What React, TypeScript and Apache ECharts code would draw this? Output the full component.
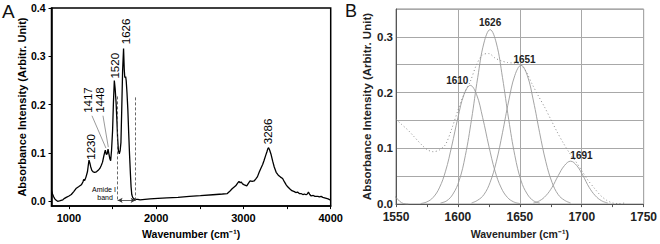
import React, { useEffect, useRef } from 'react';
import * as echarts from 'echarts';

// ---------- Panel A: full FTIR spectrum ----------
const specAWn = [800, 812, 823, 838, 854, 870, 892, 910, 930, 950, 969, 1000, 1027, 1055, 1085, 1110, 1142, 1160, 1169, 1180, 1195, 1212, 1222, 1230, 1240, 1250, 1262, 1277, 1295, 1315, 1335, 1354, 1370, 1385, 1400, 1411, 1417, 1428, 1438, 1448, 1458, 1469, 1478, 1488, 1500, 1510, 1520, 1530, 1540, 1550, 1558, 1567, 1577, 1587, 1596, 1605, 1615, 1626, 1634, 1640, 1650, 1656, 1665, 1675, 1685, 1695, 1705, 1712, 1720, 1730, 1745, 1757, 1790, 1815, 1870, 1930, 2020, 2123, 2250, 2380, 2507, 2650, 2760, 2815, 2840, 2870, 2911, 2935, 2949, 2962, 2973, 2990, 3010, 3038, 3060, 3076, 3100, 3122, 3140, 3161, 3180, 3199, 3220, 3237, 3255, 3268, 3280, 3288, 3300, 3315, 3335, 3353, 3375, 3399, 3425, 3449, 3470, 3490, 3507, 3530, 3555, 3583, 3600, 3620, 3640, 3660, 3680, 3700, 3718, 3732, 3745, 3760, 3776, 3800, 3820, 3853, 3870, 3890, 3910, 3930, 3950, 3970, 4000];
const specAVal = [0.022, 0.015, 0.010, 0.005, 0.002, 0.000, 0.001, 0.002, 0.003, 0.006, 0.008, 0.011, 0.014, 0.020, 0.027, 0.030, 0.034, 0.040, 0.045, 0.043, 0.050, 0.061, 0.075, 0.085, 0.079, 0.071, 0.064, 0.061, 0.060, 0.061, 0.064, 0.068, 0.074, 0.081, 0.094, 0.102, 0.106, 0.097, 0.098, 0.108, 0.098, 0.088, 0.084, 0.105, 0.146, 0.205, 0.250, 0.232, 0.205, 0.165, 0.130, 0.105, 0.098, 0.105, 0.122, 0.190, 0.270, 0.316, 0.272, 0.256, 0.258, 0.250, 0.225, 0.190, 0.140, 0.095, 0.055, 0.030, 0.014, 0.008, 0.005, 0.004, 0.004, 0.003, 0.004, 0.005, 0.006, 0.007, 0.008, 0.010, 0.0115, 0.0135, 0.015, 0.016, 0.020, 0.026, 0.032, 0.038, 0.041, 0.038, 0.040, 0.036, 0.034, 0.032, 0.038, 0.042, 0.041, 0.042, 0.046, 0.051, 0.060, 0.068, 0.076, 0.085, 0.095, 0.102, 0.109, 0.111, 0.106, 0.098, 0.083, 0.071, 0.060, 0.054, 0.050, 0.047, 0.040, 0.034, 0.030, 0.026, 0.022, 0.020, 0.018, 0.019, 0.016, 0.016, 0.014, 0.015, 0.0135, 0.015, 0.019, 0.014, 0.011, 0.012, 0.010, 0.010, 0.009, 0.010, 0.008, 0.007, 0.006, 0.005, 0.002];

const aXLabels = [1000, 2000, 3000, 4000];
const aXTicks = [1000, 1500, 2000, 2500, 3000, 3500, 4000];
const aYLabels = [0, 0.1, 0.2, 0.3, 0.4];

// rotated peak annotations: text start (bottom) point in data coords
const aPeakText = ['1230', '1417', '1448', '1520', '1626', '3286'];
const aPeakX = [1249, 1222, 1356, 1527, 1650, 3283];
const aPeakY = [0.086, 0.183, 0.183, 0.254, 0.325, 0.118];

// leader lines for 1417 / 1448
const leaderFrom = [[1264, 0.177], [1390, 0.177]];
const leaderTo = [[1424, 0.110], [1451, 0.112]];

// amide I band markers
const amideBounds = [1558, 1764];
const amideTops = [0.217, 0.215];

// ---------- Panel B: deconvolution ----------
const g1610X = [1570, 1575, 1580, 1585, 1590, 1595, 1600, 1605, 1610, 1615, 1620, 1625, 1630, 1635, 1640, 1645, 1650];
const g1610Y = [0.001, 0.004, 0.012, 0.029, 0.059, 0.104, 0.155, 0.197, 0.213, 0.197, 0.155, 0.104, 0.059, 0.029, 0.012, 0.004, 0.001];
const g1626X = [1586, 1591, 1596, 1601, 1606, 1611, 1616, 1621, 1626, 1631, 1636, 1641, 1646, 1651, 1656, 1661, 1666];
const g1626Y = [0.002, 0.006, 0.018, 0.042, 0.087, 0.152, 0.227, 0.289, 0.313, 0.289, 0.227, 0.152, 0.087, 0.042, 0.018, 0.006, 0.002];
const g1651X = [1611, 1616, 1621, 1626, 1631, 1636, 1641, 1646, 1651, 1656, 1661, 1666, 1671, 1676, 1681, 1686, 1691];
const g1651Y = [0.002, 0.007, 0.017, 0.039, 0.076, 0.128, 0.185, 0.231, 0.249, 0.231, 0.185, 0.128, 0.076, 0.039, 0.017, 0.007, 0.002];
const g1691X = [1661, 1666, 1671, 1676, 1681, 1686, 1691, 1696, 1701, 1706, 1711, 1716, 1721];
const g1691Y = [0.002, 0.006, 0.015, 0.030, 0.051, 0.069, 0.077, 0.069, 0.051, 0.030, 0.015, 0.006, 0.002];
const gTailX = [1540, 1545, 1550, 1553, 1556, 1560];
const gTailY = [0.030, 0.022, 0.012, 0.005, 0.001, 0.000];

const measX = [1550, 1555, 1560, 1565, 1570, 1575, 1580, 1585, 1590, 1595, 1600, 1605, 1610, 1615, 1620, 1625, 1630, 1635, 1640, 1645, 1650, 1655, 1660, 1665, 1670, 1675, 1680, 1685, 1690, 1695, 1700, 1705, 1710, 1715, 1720, 1725, 1730, 1735];
const measY = [0.152, 0.142, 0.132, 0.120, 0.108, 0.098, 0.094, 0.097, 0.107, 0.135, 0.168, 0.198, 0.220, 0.250, 0.268, 0.270, 0.262, 0.257, 0.254, 0.253, 0.251, 0.238, 0.215, 0.194, 0.174, 0.152, 0.130, 0.110, 0.092, 0.077, 0.060, 0.043, 0.029, 0.016, 0.007, 0.002, 0.001, 0.002];

const bPeakText = ['1610', '1626', '1651', '1691'];
const bPeakX = [1599.5, 1626, 1653.8, 1699.8];
const bPeakY = [0.221, 0.326, 0.26, 0.0876];

const FONT = "'Liberation Sans', Arial, sans-serif";
const zip = (xs: number[], ys: number[]) => xs.map((x, i) => [x, ys[i]]);

export default function App() {
  const ref = useRef<HTMLDivElement>(null);
  useEffect(() => {
    document.body.style.margin = '0';
    const chart = echarts.init(ref.current!, null, { renderer: 'svg' });
    const gaussStyle = { color: '#9a9a9a', width: 0.9 };
    const gauss = (xs: number[], ys: number[]) => ({
      type: 'line', xAxisIndex: 1, yAxisIndex: 1, data: zip(xs, ys), showSymbol: false,
      smooth: 0.4, lineStyle: gaussStyle, clip: true, silent: true,
    });
    chart.setOption({
      animation: false,
      grid: [
        { left: 51.5, right: 329.3, top: 8, bottom: 34, show: true, borderColor: '#000', borderWidth: 1.5, backgroundColor: 'transparent' },
        { left: 396, right: 14, top: 9, bottom: 35, show: true, borderColor: '#8a8a8a', borderWidth: 1, backgroundColor: 'transparent' },
      ],
      xAxis: [
        {
          gridIndex: 0, type: 'value', min: 800, max: 4000,
          axisLine: { show: true, onZero: false, lineStyle: { color: '#000', width: 1.5 } },
          axisTick: { show: true, length: 3, customValues: aXTicks, lineStyle: { color: '#000' } },
          axisLabel: { customValues: aXLabels, formatter: (v: number) => String(v), fontSize: 11, fontWeight: 'bold', color: '#000', fontFamily: FONT, margin: 6 },
          splitLine: { show: false },
          name: 'Wavenumber (cm⁻¹)', nameLocation: 'middle', nameGap: 16,
          nameTextStyle: { fontSize: 10.5, fontWeight: 'bold', color: '#000', fontFamily: FONT },
        },
        {
          gridIndex: 1, type: 'value', min: 1550, max: 1750, interval: 50,
          axisLine: { show: true, onZero: false, lineStyle: { color: '#555', width: 1 } },
          axisTick: { show: true, length: 3, lineStyle: { color: '#555' } },
          minorTick: { show: true, splitNumber: 2, length: 3, lineStyle: { color: '#555' } },
          axisLabel: { formatter: (v: number) => String(v), fontSize: 12, fontWeight: 'bold', color: '#222', fontFamily: FONT, margin: 7 },
          splitLine: { show: true, lineStyle: { color: '#a8a8a8', width: 1 } },
          name: 'Wavenumber (cm⁻¹)', nameLocation: 'middle', nameGap: 17,
          nameTextStyle: { fontSize: 10.5, fontWeight: 'bold', color: '#222', fontFamily: FONT },
        },
      ],
      yAxis: [
        {
          gridIndex: 0, type: 'value', min: -0.01, max: 0.4,
          axisLine: { show: true, onZero: false, lineStyle: { color: '#000', width: 1.5 } },
          axisTick: { show: true, length: 3, customValues: aYLabels, lineStyle: { color: '#000' } },
          axisLabel: { customValues: aYLabels, formatter: (v: number) => v.toFixed(1), fontSize: 10.5, fontWeight: 'bold', color: '#000', fontFamily: FONT, margin: 6 },
          splitLine: { show: false },
          name: 'Absorbance Intensity (Arbitr. Unit)', nameLocation: 'middle', nameGap: 22,
          nameTextStyle: { fontSize: 11, fontWeight: 'bold', color: '#000', fontFamily: FONT },
        },
        {
          gridIndex: 1, type: 'value', min: 0, max: 0.35, interval: 0.05,
          axisLine: { show: true, onZero: false, lineStyle: { color: '#555', width: 1 } },
          axisTick: { show: false },
          axisLabel: {
            formatter: (v: number) => (Math.abs(v * 10 - Math.round(v * 10)) < 1e-6 ? v.toFixed(1) : ''),
            fontSize: 11.5, fontWeight: 'bold', color: '#222', fontFamily: FONT, margin: 3,
          },
          splitLine: { show: true, lineStyle: { color: '#a8a8a8', width: 1 } },
          name: 'Absorbance Intensity (Arbitr. Unit)', nameLocation: 'middle', nameGap: 22,
          nameTextStyle: { fontSize: 11.5, fontWeight: 'bold', color: '#222', fontFamily: FONT },
        },
      ],
      series: [
        {
          type: 'line', xAxisIndex: 0, yAxisIndex: 0, data: zip(specAWn, specAVal), showSymbol: false,
          lineStyle: { color: '#000', width: 1.3 }, silent: true,
          markLine: {
            silent: true, symbol: ['none', 'none'], label: { show: false },
            lineStyle: { type: [3, 2], color: '#444', width: 0.8 },
            data: amideBounds.map((b, i) => [{ coord: [b, amideTops[i]] }, { coord: [b, 0] }]),
          },
        },
        {
          type: 'line', xAxisIndex: 0, yAxisIndex: 0, data: [], showSymbol: false, silent: true,
          markLine: {
            silent: true, symbol: ['arrow', 'arrow'], symbolSize: [4, 5], label: { show: false },
            lineStyle: { type: 'solid', color: '#333', width: 0.8 },
            data: [[{ coord: [amideBounds[0], 0.002] }, { coord: [amideBounds[1], 0.002] }]],
          },
        },
        gauss(gTailX, gTailY),
        gauss(g1610X, g1610Y),
        gauss(g1626X, g1626Y),
        gauss(g1651X, g1651Y),
        gauss(g1691X, g1691Y),
        {
          type: 'line', xAxisIndex: 1, yAxisIndex: 1, data: zip(measX, measY), showSymbol: false,
          smooth: 0.3, lineStyle: { color: '#8a8a8a', width: 1, type: [1, 2.5] }, silent: true,
        },
      ],
    });

    const toA = (x: number, y: number) => chart.convertToPixel({ gridIndex: 0 } as any, [x, y]) as number[];
    const toB = (x: number, y: number) => chart.convertToPixel({ gridIndex: 1 } as any, [x, y]) as number[];
    const graphics: any[] = [];
    aPeakText.forEach((t, i) => {
      const [px, py] = toA(aPeakX[i], aPeakY[i]);
      graphics.push({
        type: 'text', x: px, y: py, rotation: Math.PI / 2, silent: true,
        style: { text: t, fontSize: 11.5, fontFamily: FONT, fill: '#000', align: 'left', verticalAlign: 'middle' },
      });
    });
    leaderFrom.forEach((f, i) => {
      const [x1, y1] = toA(f[0], f[1]);
      const [x2, y2] = toA(leaderTo[i][0], leaderTo[i][1]);
      graphics.push({ type: 'line', silent: true, shape: { x1, y1, x2, y2 }, style: { stroke: '#555', lineWidth: 0.6 } });
    });
    const [ax, ay1] = toA(amideBounds[0] - 55, 0.024);
    const [, ay2] = toA(amideBounds[0] - 55, 0.007);
    graphics.push({ type: 'text', x: ax + 3, y: ay1, silent: true, style: { text: 'Amide I', fontSize: 7, fontFamily: FONT, fill: '#000', align: 'right', verticalAlign: 'middle' } });
    graphics.push({ type: 'text', x: ax, y: ay2, silent: true, style: { text: 'band', fontSize: 7, fontFamily: FONT, fill: '#000', align: 'right', verticalAlign: 'middle' } });
    bPeakText.forEach((t, i) => {
      const [px, py] = toB(bPeakX[i], bPeakY[i]);
      graphics.push({
        type: 'text', x: px, y: py, silent: true,
        style: { text: t, fontSize: 10, fontWeight: 'bold', fontFamily: FONT, fill: '#222', align: 'center', verticalAlign: 'middle' },
      });
    });
    graphics.push({ type: 'text', left: 2, top: 2, silent: true, style: { text: 'A', fontSize: 19, fontFamily: FONT, fill: '#111' } });
    graphics.push({ type: 'text', left: 345, top: 2, silent: true, style: { text: 'B', fontSize: 18, fontFamily: FONT, fill: '#111' } });
    chart.setOption({ graphic: graphics });

    return () => chart.dispose();
  }, []);
  return <div ref={ref} style={{ width: 660, height: 244 }} />;
}
